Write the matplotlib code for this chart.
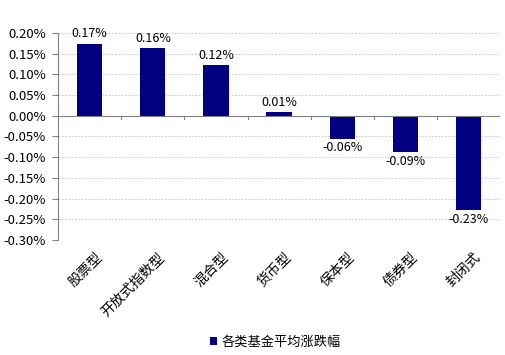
import numpy as np
import matplotlib
matplotlib.use("Agg")
import matplotlib.pyplot as plt
from matplotlib.ticker import FuncFormatter, MultipleLocator

plt.rcParams['font.family'] = ['Noto Sans CJK SC', 'DejaVu Sans']

categories = ["股票型", "开放式指数型", "混合型", "货币型", "保本型", "债券型", "封闭式"]
values = [0.174, 0.164, 0.123, 0.008, -0.055, -0.088, -0.228]
labels = ["0.17%", "0.16%", "0.12%", "0.01%", "-0.06%", "-0.09%", "-0.23%"]
series_name = "各类基金平均涨跌幅"

fig = plt.figure(figsize=(5.06, 3.55), dpi=100)
ax = fig.add_axes([0.115, 0.324, 0.873, 0.583])

x = np.arange(len(categories))
ax.bar(x, values, width=0.4, color="#000080", label=series_name, zorder=3)

for xi, v, lab in zip(x, values, labels):
    if v >= 0:
        ax.text(xi, v + 0.008, lab, ha="center", va="bottom", fontsize=9)
    else:
        ax.text(xi, v - 0.006, lab, ha="center", va="top", fontsize=9)

ax.set_ylim(-0.30, 0.20)
ax.set_xlim(-0.5, len(categories) - 0.5)
ax.yaxis.set_major_locator(MultipleLocator(0.05))
ax.yaxis.set_major_formatter(FuncFormatter(lambda v, p: "%.2f%%" % v))
ax.grid(axis="y", color="#c0c0c0", linestyle=(0, (2, 2)), linewidth=0.6, zorder=0)

for s in ["top", "right", "bottom"]:
    ax.spines[s].set_visible(False)
ax.spines["left"].set_color("#808080")
ax.tick_params(axis="y", labelsize=9.5, length=4, color="#808080", pad=5)

# zero line with category-boundary ticks
ax.axhline(0, color="#808080", linewidth=0.8, zorder=4)
for b in np.arange(0.5, len(categories) - 0.5):
    ax.plot([b, b], [0, -0.008], color="#808080", linewidth=0.8, zorder=4)

ax.set_xticks(x)
ax.set_xticklabels([])
ax.tick_params(axis="x", length=0)
for xi, c in zip(x, categories):
    ax.text(xi + 0.08, -0.325, c, rotation=45, ha="right", va="top",
            fontsize=10, rotation_mode="anchor")

leg = fig.legend(loc="lower center", bbox_to_anchor=(0.545, -0.015), frameon=False,
                 fontsize=9.5, handlelength=0.5, handleheight=0.5, handletextpad=0.4)

fig.savefig("out.png", dpi=100)
